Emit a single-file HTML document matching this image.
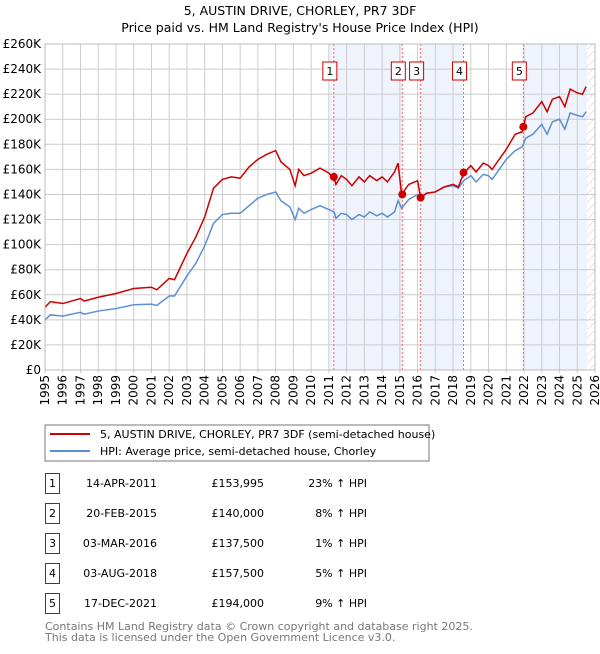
<!DOCTYPE html>
<html><head><meta charset="utf-8"><style>
body{margin:0;background:#fff;font-family:"DejaVu Sans","Liberation Sans",sans-serif;}
svg text{font-family:"DejaVu Sans","Liberation Sans",sans-serif;}
</style></head><body>
<svg id="c" width="600" height="650" xmlns="http://www.w3.org/2000/svg">
<text x="300" y="15" font-size="12.5" text-anchor="middle">5, AUSTIN DRIVE, CHORLEY, PR7 3DF</text>
<text x="300" y="32" font-size="12.5" text-anchor="middle">Price paid vs. HM Land Registry's House Price Index (HPI)</text>
<g id="plot"></g>
<g>
<rect x="45" y="425" width="384" height="36" fill="#fff" stroke="#777" stroke-width="1"/>
<line x1="50" y1="434" x2="90" y2="434" stroke="#cc0000" stroke-width="2"/>
<text x="100" y="438" font-size="11">5, AUSTIN DRIVE, CHORLEY, PR7 3DF (semi-detached house)</text>
<line x1="50" y1="451" x2="90" y2="451" stroke="#5b8fd4" stroke-width="2"/>
<text x="100" y="455" font-size="11">HPI: Average price, semi-detached house, Chorley</text>
</g>
<g id="table" font-size="11"></g>
<text x="45" y="630" font-size="11" fill="#777">Contains HM Land Registry data © Crown copyright and database right 2025.</text>
<text x="45" y="641" font-size="11" fill="#777">This data is licensed under the Open Government Licence v3.0.</text>
</svg>
<script>
const hpiYears=[1995,1995.3,1996,1997,1997.2,1998,1999,2000,2001,2001.3,2002,2002.3,2003,2003.5,2004,2004.5,2005,2005.5,2006,2006.5,2007,2007.5,2008,2008.3,2008.8,2009.1,2009.3,2009.6,2010,2010.5,2011,2011.3,2011.4,2011.7,2012,2012.3,2012.7,2013,2013.3,2013.7,2014,2014.3,2014.7,2014.9,2015.1,2015.5,2016,2016.17,2016.5,2017,2017.5,2018,2018.3,2018.6,2019,2019.3,2019.7,2020,2020.2,2020.5,2021,2021.5,2021.9,2022.1,2022.5,2023,2023.3,2023.6,2024,2024.3,2024.6,2025,2025.3,2025.5];
const hpiValues=[40,44,43,46,44.5,47,49,52,52.5,51.5,59,59,75,85,99,117,124,125,125,131,137,140,142,135,130,120,129,125,128,131,128,126,121,125,124,120,124,122,126,123,125,122,126,135,129,136,140,136,141,142,146,147,145,151,155,150,156,155,152,158,168,175,178,185,188,196,188,198,200,192,205,203,202,206];
const propValues=[50,54.5,53,57,55,58,61,65,66,64,73,72,93,106,122,145,152,154,153,162,168,172,175,166,160,147,160,155,157,161,157,153,148,155,152,147,154,150,155,151,154,150,158,165,140,148,151,137.5,141,142,146,148,146,157,163,158,165,163,160,166,176,188,190,202,205,214,206,216,218,210,224,221,220,226];
const saleYears=[2011.28,2015.14,2016.17,2018.59,2021.96];
const salePrices=[153995,140000,137500,157500,194000];
const saleDates=["14-APR-2011","20-FEB-2015","03-MAR-2016","03-AUG-2018","17-DEC-2021"];
const salePriceLabels=["£153,995","£140,000","£137,500","£157,500","£194,000"];
const salePct=["23%","8%","1%","5%","9%"];
const yTicks=[0,20,40,60,80,100,120,140,160,180,200,220,240,260];
const xTicks=[];for(let y=1995;y<=2026;y++)xTicks.push(y);

const NS="http://www.w3.org/2000/svg";
const L=45,R=595,T=44,B=370;
const x=t=>L+(t-1995)*(R-L)/31;
const y=v=>B-v*(B-T)/260;
const plot=document.getElementById('plot');
function mk(tag,a,parent){const e=document.createElementNS(NS,tag);for(const k in a)e.setAttribute(k,a[k]);(parent||plot).appendChild(e);return e;}

const shade=[[saleYears[0]-0.25,saleYears[1]],[saleYears[2],saleYears[3]],[saleYears[4],2025.55]];
shade.forEach((s,i)=>{const r=mk('rect',{x:x(s[0]),y:T,width:x(s[1])-x(s[0]),height:B-T,fill:'#eef3fc'});

});
const defs=mk('defs',{});
const pat=mk('pattern',{id:'h',width:6,height:6,patternUnits:'userSpaceOnUse',patternTransform:'rotate(45)'},defs);
mk('line',{x1:0,y1:0,x2:0,y2:6,stroke:'#ccc','stroke-width':1},pat);
const hr=mk('rect',{x:x(2025.55),y:T,width:R-x(2025.55),height:B-T,fill:'url(#h)'});


yTicks.forEach(v=>{
 const g=mk('line',{x1:L,x2:R,y1:y(v),y2:y(v),stroke:'#ccc','stroke-width':1});
 
 
 const t=mk('text',{x:L-4,y:y(v)+4,'font-size':12,'text-anchor':'end'});t.textContent=v===0?'£0':'£'+v+'K';
 
 
});
xTicks.forEach(v=>{
 const g=mk('line',{x1:x(v),x2:x(v),y1:T,y2:B+3,stroke:'#ccc','stroke-width':1});
 
 
 const t=mk('text',{x:0,y:0,'font-size':12,'text-anchor':'end',transform:'translate('+(x(v)+4)+',375) rotate(-90)'});t.textContent=v;
 
 
});
saleYears.forEach((s,i)=>{
 const l=mk('line',{x1:x(s),x2:x(s),y1:T,y2:B,stroke:'#ff6666','stroke-width':1,'stroke-dasharray':'2,2'});
 
 
 const bx=mk('rect',{x:x(s)-11,y:62,width:14,height:18,fill:'#fff',stroke:'#cc0000','stroke-width':1});
 
 
 const t=mk('text',{x:x(s)-4,y:75,'font-size':11,'text-anchor':'middle'});t.textContent=i+1;
 
 
});
const pb=mk('polyline',{points:hpiYears.map((t,i)=>x(t)+','+y(hpiValues[i])).join(' '),fill:'none',stroke:'#5b8fd4','stroke-width':1.5});


const pr=mk('polyline',{points:hpiYears.map((t,i)=>x(t)+','+y(propValues[i])).join(' '),fill:'none',stroke:'#cc0000','stroke-width':1.5});


saleYears.forEach((s,i)=>{
 const c=mk('circle',{cx:x(s),cy:y(salePrices[i]/1000),r:4,fill:'#cc0000'});
 
 
});
mk('rect',{x:L,y:T,width:R-L,height:B-T,fill:'none',stroke:'#bbb','stroke-width':1});
const tb=document.getElementById('table');
saleDates.forEach((d,i)=>{
 const cy=483+i*30;
 const b=mk('rect',{x:45.5,y:cy-9.5,width:14,height:20,fill:'#fff',stroke:'#cc0000','stroke-width':1},tb);
 
 
 const cells=[[52.5,'middle',String(i+1)],[157,'end',d],[264,'end',salePriceLabels[i]],[367,'end',salePct[i]+' ↑ HPI']];
 const names=['number','date','price','hpi-change'];
 cells.forEach((c,j)=>{const t=mk('text',{x:c[0],y:cy+4,'text-anchor':c[1]},tb);t.textContent=c[2];
 
 });
});
</script>
</body></html>
